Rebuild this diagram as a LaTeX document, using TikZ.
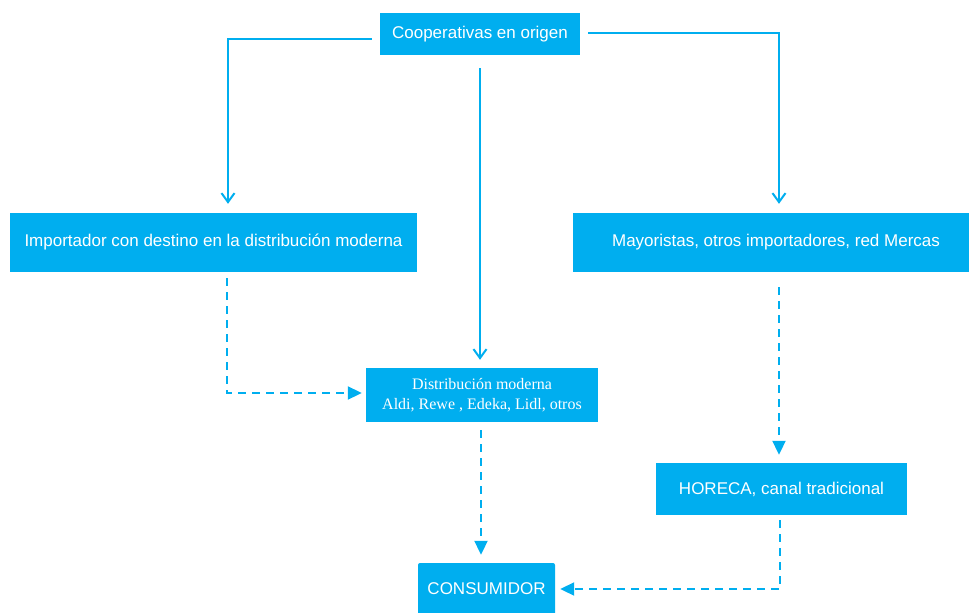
\documentclass[tikz,border=0pt]{standalone}
\usepackage{fontspec}
\setmainfont{Liberation Sans}
\newfontfamily\serifbox{Liberation Serif}
\usetikzlibrary{arrows.meta,calc}
\definecolor{cy}{HTML}{00AEEF}
\tikzset{
  box/.style={fill=cy, text=white, inner sep=0pt, font=\fontsize{17}{19}\selectfont},
  solidarrow/.style={cy, line width=2pt, -{Straight Barb[length=9pt,width=13pt,line width=2pt]}},
  dasharrow/.style={cy, line width=2pt, dash pattern=on 8pt off 6pt, -{Triangle[length=14pt,width=13pt]}},
}
\begin{document}
\begin{tikzpicture}[x=1pt,y=-1pt]
\useasboundingbox (0,0) rectangle (970,613);
\node[box, minimum width=200pt, minimum height=42pt] (coop) at (480,34) {Cooperativas en origen};
\node[box, minimum width=407pt, minimum height=59pt] (imp) at (213.5,242.5) {Importador con destino en la distribución moderna};
\node[box, minimum width=396pt, minimum height=59pt] (may) at (771,242.5) {\hspace*{10pt}Mayoristas, otros importadores, red Mercas};
\node[box, minimum width=232pt, minimum height=54pt, align=center, font=\serifbox\fontsize{16}{20}\selectfont] (dist) at (482,395) {Distribución moderna\\Aldi, Rewe , Edeka, Lidl, otros};
\node[box, minimum width=251pt, minimum height=52pt] (hor) at (781.5,489) {HORECA, canal tradicional};
\node[box, minimum width=137pt, minimum height=52pt, rounded corners=2pt] (cons) at (486.5,589) {CONSUMIDOR};
% solid arrows
\draw[solidarrow] ([shift={(-8pt,-5pt)}]coop.west) -| ([yshift=9pt]imp.north -| 228,0);
\draw[solidarrow] ([shift={(8pt,1pt)}]coop.east) -| ([yshift=9pt]may.north -| 779,0);
\draw[solidarrow] ([yshift=-13pt]coop.south) -- ([yshift=8pt]dist.north -| 480,0);
% dashed arrows
\coordinate (c1) at (227,393);
\draw[dasharrow] ([yshift=-6pt]imp.south -| 227,0) -- (c1) -- ([xshift=-4pt]dist.west |- c1);
\draw[dasharrow] ([yshift=-8pt]dist.south -| 481,0) -- ([yshift=8pt]cons.north -| 481,0);
\draw[dasharrow] ([yshift=-15pt]may.south -| 779,0) -- ([yshift=8pt]hor.north -| 779,0);
\coordinate (c2) at (780,589);
\draw[dasharrow] ([yshift=-5pt]hor.south -| 780,0) -- (c2) -- ([xshift=5pt]cons.east |- c2);
\end{tikzpicture}
\end{document}
